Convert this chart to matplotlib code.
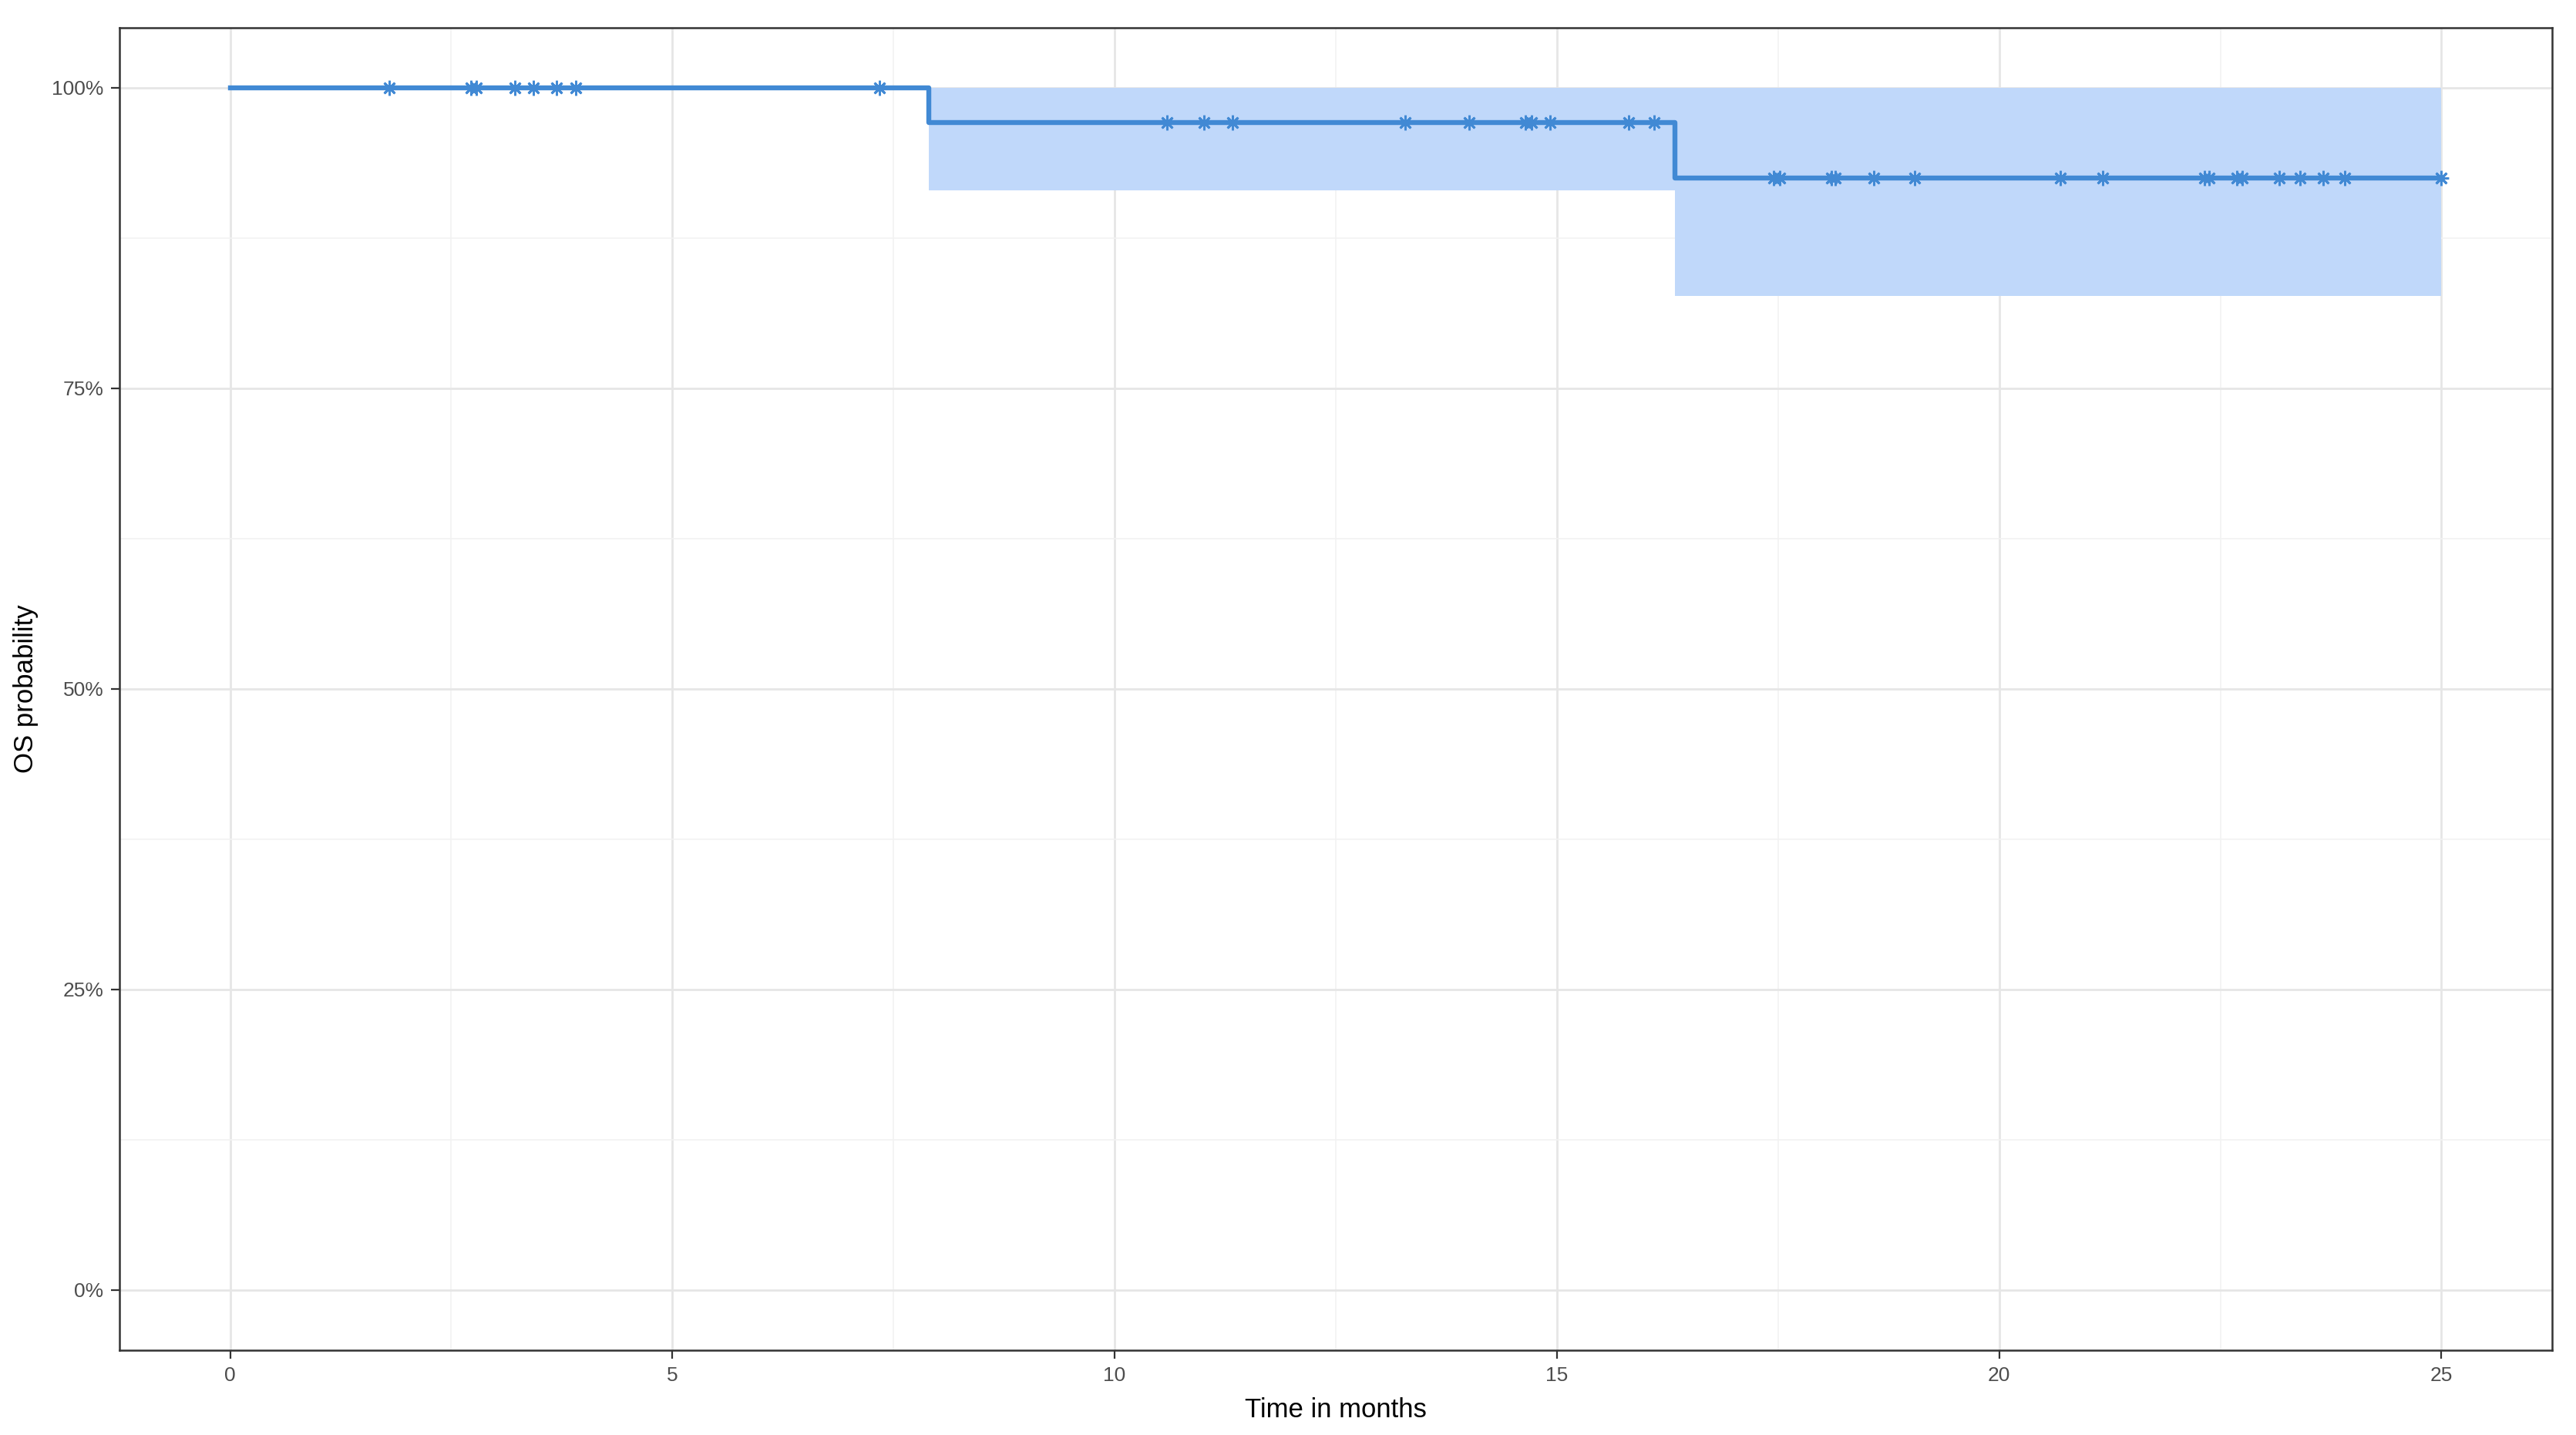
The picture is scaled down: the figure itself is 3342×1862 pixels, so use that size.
import numpy as np
import matplotlib
matplotlib.use("Agg")
import matplotlib.pyplot as plt
from matplotlib.ticker import FuncFormatter, MultipleLocator

# Kaplan-Meier estimate
step_times = [0.0, 7.9, 16.33, 25.0]
surv = [1.0, 0.9714, 0.925, 0.925]
ci_low = [1.0, 0.915, 0.827, 0.827]
ci_high = [1.0, 1.0, 1.0, 1.0]

# censored observations (months)
censor_times = [1.80, 2.72, 2.78, 3.22, 3.43, 3.69, 3.91, 7.34,
                10.59, 11.01, 11.33, 13.28, 14.01, 14.64, 14.71, 14.92,
                15.81, 16.10,
                17.45, 17.52, 18.10, 18.15, 18.58, 19.04, 20.69, 21.17,
                22.32, 22.37, 22.69, 22.75, 23.17, 23.40, 23.66, 23.91, 25.0]

line_col = "#4189d4"
fill_col = "#c0d8fa"

plt.rcParams['font.family'] = ['Liberation Sans', 'DejaVu Sans']

fig = plt.figure(figsize=(16.71, 9.31), dpi=200)
ax = fig.add_axes([0.0464, 0.0591, 0.9443, 0.9216])

# grid like ggplot theme_bw
ax.xaxis.set_major_locator(MultipleLocator(5))
ax.xaxis.set_minor_locator(MultipleLocator(2.5))
ax.yaxis.set_major_locator(MultipleLocator(0.25))
ax.yaxis.set_minor_locator(MultipleLocator(0.125))
ax.grid(which='major', color='#e6e6e6', linewidth=1.0)
ax.grid(which='minor', color='#f2f2f2', linewidth=0.6)
ax.set_axisbelow(True)

t = np.array(step_times)
ax.fill_between(t[1:], np.array(ci_low)[1:], np.array(ci_high)[1:], step='post',
                color=fill_col, linewidth=0, zorder=2)
ax.step(t, surv, where='post', color=line_col, linewidth=2.3, zorder=3)

ct = np.array(censor_times)
idx = np.searchsorted(t, ct, side='right') - 1
cs = np.array(surv)[idx]
ax.plot(ct, cs, linestyle='none', marker=(8, 2, 0), markersize=7,
        markeredgewidth=1.0, color=line_col, zorder=4)

ax.set_xlim(-1.25, 26.25)
ax.set_ylim(-0.05, 1.05)
ax.yaxis.set_major_formatter(FuncFormatter(lambda v, p: f"{v*100:.0f}%"))

ax.tick_params(axis='both', which='major', labelsize=9.5, colors='#333333',
               labelcolor='#4d4d4d', length=4, width=0.8)
ax.tick_params(axis='both', which='minor', length=0)
for s in ax.spines.values():
    s.set_color('#333333')
    s.set_linewidth(0.9)

ax.set_xlabel("Time in months", fontsize=12.5, labelpad=6)
ax.set_ylabel("OS probability", fontsize=12.5, labelpad=6)

fig.savefig("out.png", dpi=200)
